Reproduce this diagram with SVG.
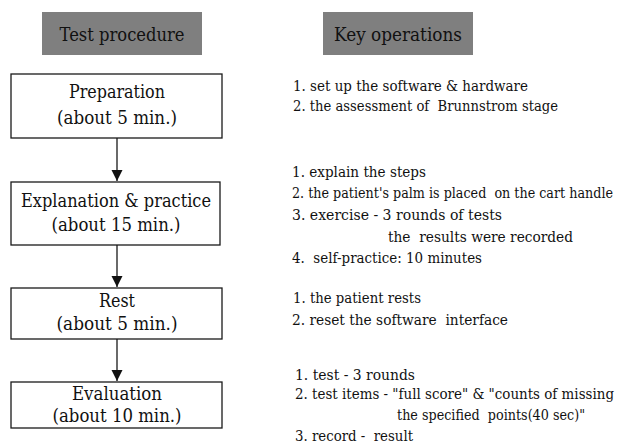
<svg xmlns="http://www.w3.org/2000/svg" width="618" height="446" viewBox="0 0 618 446">
<style>
.hdr{fill:#7f7f7f}
.ht{font-size:18.5px;fill:#111;text-anchor:middle}
.box{fill:#fff;stroke:#1a1a1a;stroke-width:1.3}
.bt{font-size:18px;fill:#111;text-anchor:middle}
.op{font-size:15px;fill:#111;white-space:pre}
.conn{stroke:#1a1a1a;stroke-width:1.3;fill:none}
</style>
<defs>
<marker id="arr" markerUnits="userSpaceOnUse" markerWidth="12" markerHeight="13" refX="11" refY="6" orient="auto">
<path d="M0,0.5 L11,6 L0,11.5 Z" fill="#111"/>
</marker>
</defs>
<rect width="618" height="446" fill="#fff"/>
<g font-family="DejaVu Serif, Liberation Serif, serif" xml:space="preserve">
<g id="header-procedure">
<rect class="hdr" x="42" y="12" width="160" height="43"/>
<text class="ht" x="122" y="41" textLength="125" lengthAdjust="spacingAndGlyphs">Test procedure</text>
</g>
<g id="header-operations">
<rect class="hdr" x="323" y="12" width="150" height="43"/>
<text class="ht" x="398" y="41" textLength="128" lengthAdjust="spacingAndGlyphs">Key operations</text>
</g>
<g id="preparation">
<rect class="box" x="11" y="74" width="211" height="64"/>
<text class="bt" x="117" y="98" textLength="96" lengthAdjust="spacingAndGlyphs">Preparation</text>
<text class="bt" x="117" y="124" textLength="120" lengthAdjust="spacingAndGlyphs">(about 5 min.)</text>
</g>
<g id="explanation">
<rect class="box" x="11" y="182" width="209" height="63"/>
<text class="bt" x="116" y="207" textLength="190" lengthAdjust="spacingAndGlyphs">Explanation &amp; practice</text>
<text class="bt" x="116" y="231" textLength="129" lengthAdjust="spacingAndGlyphs">(about 15 min.)</text>
</g>
<g id="rest">
<rect class="box" x="11" y="288" width="211" height="51"/>
<text class="bt" x="117" y="307" textLength="36" lengthAdjust="spacingAndGlyphs">Rest</text>
<text class="bt" x="117" y="330" textLength="121" lengthAdjust="spacingAndGlyphs">(about 5 min.)</text>
</g>
<g id="evaluation">
<rect class="box" x="11" y="382" width="211" height="46"/>
<text class="bt" x="117" y="400" textLength="90" lengthAdjust="spacingAndGlyphs">Evaluation</text>
<text class="bt" x="117" y="422" textLength="129" lengthAdjust="spacingAndGlyphs">(about 10 min.)</text>
</g>
<g id="ops-preparation">
<text class="op" x="293" y="91" textLength="235" lengthAdjust="spacingAndGlyphs">1. set up the software &amp; hardware</text>
<text class="op" x="293" y="111" textLength="265" lengthAdjust="spacingAndGlyphs">2. the assessment of  Brunnstrom stage</text>
</g>
<g id="ops-explanation">
<text class="op" x="292" y="177" textLength="134" lengthAdjust="spacingAndGlyphs">1. explain the steps</text>
<text class="op" x="292" y="198" textLength="321" lengthAdjust="spacingAndGlyphs">2. the patient's palm is placed  on the cart handle</text>
<text class="op" x="292" y="220" textLength="210" lengthAdjust="spacingAndGlyphs">3. exercise - 3 rounds of tests</text>
<text class="op" x="388" y="242" textLength="185" lengthAdjust="spacingAndGlyphs">the  results were recorded</text>
<text class="op" x="292" y="263" textLength="190" lengthAdjust="spacingAndGlyphs">4.  self-practice: 10 minutes</text>
</g>
<g id="ops-rest">
<text class="op" x="293" y="303" textLength="128" lengthAdjust="spacingAndGlyphs">1. the patient rests</text>
<text class="op" x="292" y="325" textLength="216" lengthAdjust="spacingAndGlyphs">2. reset the software  interface</text>
</g>
<g id="ops-evaluation">
<text class="op" x="295" y="380" textLength="120" lengthAdjust="spacingAndGlyphs">1. test - 3 rounds</text>
<text class="op" x="295" y="399" textLength="319" lengthAdjust="spacingAndGlyphs">2. test items - "full score" &amp; "counts of missing</text>
<text class="op" x="397" y="420" textLength="188" lengthAdjust="spacingAndGlyphs">the specified  points(40 sec)"</text>
<text class="op" x="295" y="441" textLength="118" lengthAdjust="spacingAndGlyphs">3. record -  result</text>
</g>
</g>
<g id="connectors">
<line class="conn" x1="117" y1="138" x2="117" y2="181" marker-end="url(#arr)"/>
<line class="conn" x1="117" y1="245" x2="117" y2="287" marker-end="url(#arr)"/>
<line class="conn" x1="117" y1="339" x2="117" y2="381" marker-end="url(#arr)"/>
</g>
</svg>
